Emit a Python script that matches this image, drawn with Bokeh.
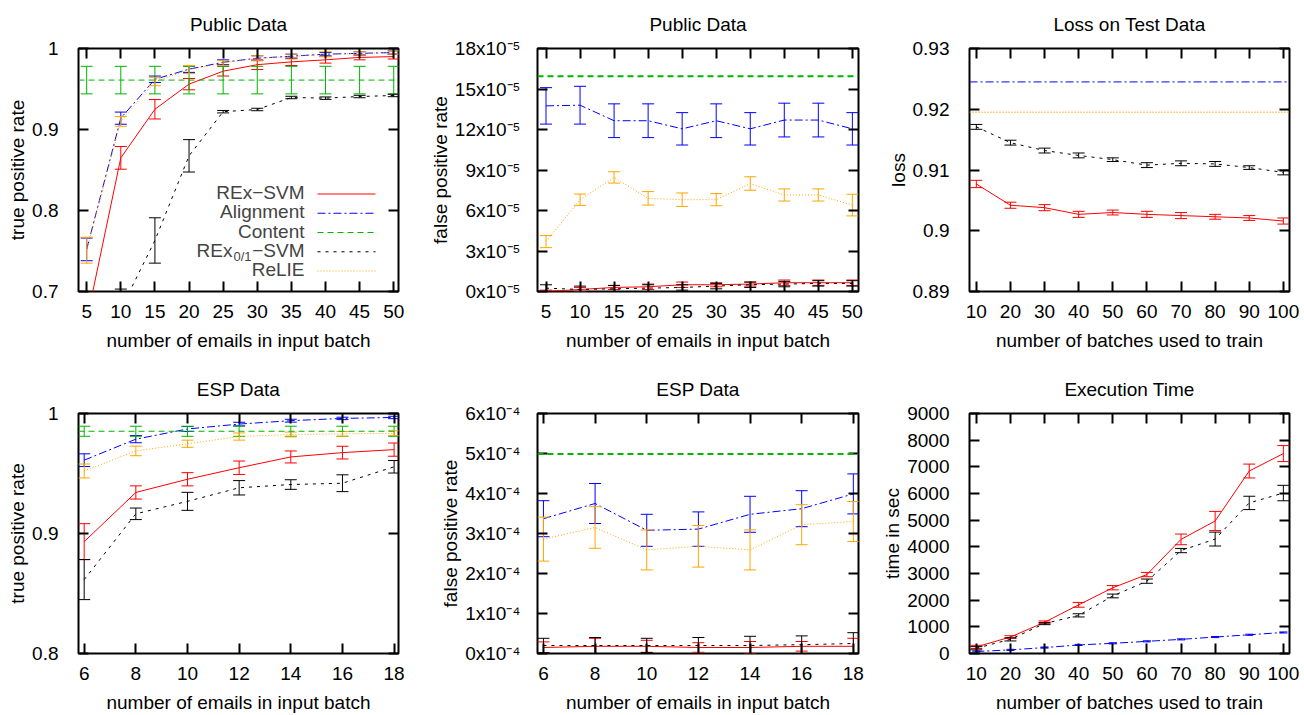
from bokeh.plotting import figure
from bokeh.layouts import column, row
from bokeh.models import (LinearAxis, FixedTicker, CustomJSTickFormatter, Range1d,
                          Label, Span)
from bokeh.embed import file_html
from bokeh.resources import INLINE

# ---------------- data ----------------
# Panel 1: Public Data, true positive rate
x_pub = [5, 10, 15, 20, 25, 30, 35, 40, 45, 50]
pub_tpr_rex = [0.664, 0.865, 0.925, 0.956, 0.972, 0.980, 0.9835, 0.986, 0.989, 0.990]
pub_tpr_rex_err = [0.015, 0.014, 0.012, 0.007, 0.006, 0.006, 0.0045, 0.004, 0.003, 0.003]
pub_tpr_align = [0.752, 0.914, 0.962, 0.9745, 0.983, 0.988, 0.9905, 0.993, 0.994, 0.995]
pub_tpr_align_err = [0.014, 0.0075, 0.004, 0.004, 0.003, 0.003, 0.0025, 0.002, 0.002, 0.002]
pub_tpr_content = 0.961
pub_tpr_content_err = 0.017
pub_tpr_rex01 = [0.58, 0.678, 0.763, 0.8675, 0.922, 0.9247, 0.9395, 0.9387, 0.9407, 0.942]
pub_tpr_rex01_err = [0.03, 0.025, 0.028, 0.02, 0.0015, 0.0015, 0.0015, 0.0015, 0.0015, 0.0015]
pub_tpr_relie = [0.751, 0.910, 0.959, 0.974, 0.982, 0.988, 0.990, 0.993, 0.994, 0.995]
pub_tpr_relie_err = [0.016, 0.006, 0.005, 0.005, 0.003, 0.003, 0.003, 0.003, 0.002, 0.002]
tpr_pub_ticks = [0.7, 0.8, 0.9, 1.0]
tpr_pub_labels = ["0.7", "0.8", "0.9", "1"]

# Panel 2: Public Data, false positive rate (units of 1e-5)
pub_fpr_rex = [0.0, 0.15, 0.3, 0.35, 0.5, 0.5, 0.55, 0.65, 0.65, 0.65]
pub_fpr_rex_err = [0.1, 0.15, 0.15, 0.2, 0.2, 0.15, 0.15, 0.2, 0.2, 0.2]
pub_fpr_align = [13.75, 13.8, 12.65, 12.65, 12.05, 12.65, 12.05, 12.7, 12.7, 12.05]
pub_fpr_align_err = [1.35, 1.4, 1.25, 1.25, 1.2, 1.25, 1.2, 1.25, 1.25, 1.2]
pub_fpr_content = 15.95
pub_fpr_rex01 = [0.25, 0.15, 0.2, 0.25, 0.3, 0.4, 0.5, 0.55, 0.6, 0.6]
pub_fpr_rex01_err = [0.25, 0.25, 0.25, 0.25, 0.2, 0.2, 0.2, 0.2, 0.2, 0.2]
pub_fpr_relie = [3.7, 6.8, 8.45, 6.9, 6.8, 6.8, 8.0, 7.15, 7.15, 6.4]
pub_fpr_relie_err = [0.45, 0.42, 0.42, 0.5, 0.5, 0.45, 0.5, 0.45, 0.45, 0.8]
fpr_pub_ticks = [0, 3, 6, 9, 12, 15, 18]
fpr_pub_labels = ["0x10\u207b\u2075", "3x10\u207b\u2075", "6x10\u207b\u2075", "9x10\u207b\u2075",
                  "12x10\u207b\u2075", "15x10\u207b\u2075", "18x10\u207b\u2075"]

# Panel 3: Loss on Test Data
x_batches = [10, 20, 30, 40, 50, 60, 70, 80, 90, 100]
loss_rex = [0.9077, 0.9042, 0.9038, 0.9027, 0.9030, 0.9027, 0.9025, 0.9023, 0.9021, 0.9016]
loss_rex_err = [0.0006, 0.0005, 0.0005, 0.0005, 0.0004, 0.0005, 0.0005, 0.0004, 0.0004, 0.0005]
loss_align = 0.9245
loss_rex01 = [0.9171, 0.9145, 0.9132, 0.9124, 0.9117, 0.9108, 0.9111, 0.9110, 0.9104, 0.9096]
loss_rex01_err = [0.0004, 0.0004, 0.0004, 0.0004, 0.0003, 0.0004, 0.0004, 0.0004, 0.0003, 0.0004]
loss_relie = 0.9195
loss_ticks = [0.89, 0.90, 0.91, 0.92, 0.93]
loss_labels = ["0.89", "0.9", "0.91", "0.92", "0.93"]

# Panel 4: ESP Data, true positive rate
x_esp = [6, 8, 10, 12, 14, 16, 18]
esp_tpr_rex = [0.8932, 0.9342, 0.9452, 0.9548, 0.9638, 0.9674, 0.9699]
esp_tpr_rex_err = [0.015, 0.0055, 0.0055, 0.0056, 0.005, 0.0053, 0.0055]
esp_tpr_align = [0.9611, 0.9786, 0.9871, 0.9912, 0.994, 0.9959, 0.9967]
esp_tpr_align_err = [0.0053, 0.003, 0.002, 0.0015, 0.0012, 0.001, 0.001]
esp_tpr_content = 0.9852
esp_tpr_content_err = 0.0042
esp_tpr_rex01 = [0.8616, 0.9164, 0.9268, 0.9381, 0.9408, 0.9419, 0.9556]
esp_tpr_rex01_err = [0.0167, 0.0048, 0.0075, 0.006, 0.004, 0.007, 0.0052]
esp_tpr_relie = [0.9521, 0.9688, 0.9748, 0.9808, 0.9825, 0.983, 0.9836]
esp_tpr_relie_err = [0.0058, 0.004, 0.003, 0.003, 0.002, 0.002, 0.002]
tpr_esp_ticks = [0.8, 0.9, 1.0]
tpr_esp_labels = ["0.8", "0.9", "1"]

# Panel 5: ESP Data, false positive rate (units of 1e-4)
esp_fpr_rex = [0.15, 0.18, 0.18, 0.15, 0.15, 0.18, 0.18]
esp_fpr_rex_err = [0.14, 0.2, 0.15, 0.12, 0.15, 0.12, 0.2]
esp_fpr_align = [3.37, 3.75, 3.08, 3.11, 3.48, 3.62, 3.99]
esp_fpr_align_err = [0.45, 0.5, 0.4, 0.43, 0.45, 0.45, 0.5]
esp_fpr_content = 4.99
esp_fpr_rex01 = [0.2, 0.2, 0.2, 0.2, 0.2, 0.22, 0.25]
esp_fpr_rex01_err = [0.18, 0.2, 0.18, 0.2, 0.23, 0.22, 0.27]
esp_fpr_relie = [2.86, 3.15, 2.59, 2.68, 2.59, 3.22, 3.30]
esp_fpr_relie_err = [0.55, 0.52, 0.5, 0.52, 0.5, 0.5, 0.5]
fpr_esp_ticks = [0, 1, 2, 3, 4, 5, 6]
fpr_esp_labels = ["0x10\u207b\u2074", "1x10\u207b\u2074", "2x10\u207b\u2074", "3x10\u207b\u2074",
                  "4x10\u207b\u2074", "5x10\u207b\u2074", "6x10\u207b\u2074"]

# Panel 6: Execution Time (sec)
time_rex = [247, 617, 1171, 1825, 2466, 2960, 4279, 4969, 6843, 7497]
time_rex_err = [60, 50, 50, 90, 80, 80, 200, 360, 260, 300]
time_rex01 = [197, 530, 1122, 1430, 2158, 2713, 3860, 4291, 5647, 6017]
time_rex01_err = [60, 60, 40, 60, 70, 80, 80, 260, 250, 290]
time_align = [74, 136, 222, 321, 382, 456, 530, 617, 703, 789]
time_align_err = [20, 20, 20, 20, 20, 20, 20, 20, 20, 20]
time_ticks = [0, 1000, 2000, 3000, 4000, 5000, 6000, 7000, 8000, 9000]
time_labels = [str(t) for t in time_ticks]

legend_names = ["REx\u2212SVM", "Alignment", "Content", "REx_0/1_\u2212SVM", "ReLIE"]

# ---------------- style ----------------
FONT = "Liberation Sans"
FS = "19px"
RED, BLUE, GREEN, BLACK, ORANGE = "#ff0000", "#0000ff", "#00b400", "#000000", "#ffa500"
D_REX, D_ALIGN, D_CONTENT, D_REX01, D_RELIE = "solid", "8 3 2 3", "6 4", "3 5", "1 2"
COLORS = [RED, BLUE, GREEN, BLACK, ORANGE]
DASHES = [D_REX, D_ALIGN, D_CONTENT, D_REX01, D_RELIE]

LOOKUP = ("const i = t.findIndex(v => Math.abs(v - tick) < 1e-9);"
          "return i >= 0 ? l[i] : '';")


def mirror_axis(ticks):
    return LinearAxis(ticker=FixedTicker(ticks=ticks),
                      formatter=CustomJSTickFormatter(code="return ''"),
                      axis_line_color=None, major_tick_in=10, major_tick_out=0,
                      major_tick_line_width=2, major_tick_line_color="black",
                      minor_tick_line_color=None, major_label_standoff=0,
                      major_label_text_font_size="1px")


def make_fig(title, xlabel, ylabel, xr, yr, xticks, yticks, ylabels,
             width, height, bl, br, bt, bb, ystand=20):
    p = figure(width=width, height=height, x_range=Range1d(*xr), y_range=Range1d(*yr),
               output_backend="svg", toolbar_location=None, title=title,
               min_border_left=bl, min_border_right=br,
               min_border_top=bt, min_border_bottom=bb,
               background_fill_color="white", border_fill_color="white")
    p.title.align = "center"
    p.title.vertical_align = "top"
    p.title.text_font = FONT
    p.title.text_font_size = FS
    p.title.text_font_style = "normal"
    p.title.text_color = "black"
    p.title.standoff = 23
    p.grid.visible = False
    p.outline_line_color = "black"
    p.outline_line_width = 2
    p.outline_line_alpha = 1
    p.xaxis.ticker = FixedTicker(ticks=xticks)
    p.yaxis.ticker = FixedTicker(ticks=yticks)
    p.yaxis.formatter = CustomJSTickFormatter(args=dict(t=yticks, l=ylabels), code=LOOKUP)
    p.xaxis.axis_label = xlabel
    p.yaxis.axis_label = ylabel
    for ax in (p.xaxis[0], p.yaxis[0]):
        ax.axis_line_color = None
        ax.major_tick_in = 10
        ax.major_tick_out = 0
        ax.major_tick_line_width = 2
        ax.major_tick_line_color = "black"
        ax.minor_tick_line_color = None
        ax.major_label_text_font = FONT
        ax.major_label_text_font_size = FS
        ax.major_label_text_color = "black"
        ax.axis_label_text_font = FONT
        ax.axis_label_text_font_size = FS
        ax.axis_label_text_font_style = "normal"
        ax.axis_label_text_color = "black"
    p.xaxis.major_label_standoff = 13
    p.xaxis.axis_label_standoff = 9
    p.yaxis.major_label_standoff = ystand
    p.yaxis.axis_label_standoff = 1
    p.add_layout(mirror_axis(xticks), "above")
    p.add_layout(mirror_axis(yticks), "right")
    return p


def errorbars(p, x, y, err, color, cap=12):
    lo = [a - e for a, e in zip(y, err)]
    hi = [a + e for a, e in zip(y, err)]
    p.segment(x0=x, y0=lo, x1=x, y1=hi, line_color=color, line_width=1)
    p.scatter(x, lo, marker="dash", size=cap, line_color=color, line_width=1)
    p.scatter(x, hi, marker="dash", size=cap, line_color=color, line_width=1)


def series(p, x, y, err, color, dash, cap=12):
    p.line(x, y, line_color=color, line_width=1, line_dash=dash)
    if err is not None:
        errorbars(p, x, y, err, color, cap)


def constant(p, x, v, err, color, dash, width=1):
    p.add_layout(Span(location=v, dimension="width", line_color=color,
                      line_dash=dash, line_width=width))
    if err is not None:
        errorbars(p, x, [v] * len(x), [err] * len(x), color)


# ---------------- layout geometry ----------------
H1, H2 = 365, 350
T1, B1 = 48, 74
T2, B2 = 48, 59
W1, L1, R1 = 418, 78, 20
W2, L2, R2 = 460, 119, 20
W3, L3, R3 = 421, 91, 10

XLAB_EMAIL = "number of emails in input batch"
XLAB_BATCH = "number of batches used to train"

# Panel 1
xr1, yr1 = (3.8, 50.7), (0.7, 1.0)
p1 = make_fig("Public Data", XLAB_EMAIL, "true positive rate", xr1, yr1,
              x_pub, tpr_pub_ticks, tpr_pub_labels, W1, H1, L1, R1, T1, B1)
series(p1, x_pub, pub_tpr_rex, pub_tpr_rex_err, RED, D_REX)
series(p1, x_pub, pub_tpr_align, pub_tpr_align_err, BLUE, D_ALIGN)
constant(p1, x_pub, pub_tpr_content, pub_tpr_content_err, GREEN, D_CONTENT)
series(p1, x_pub, pub_tpr_rex01, pub_tpr_rex01_err, BLACK, D_REX01)
series(p1, x_pub, pub_tpr_relie, pub_tpr_relie_err, ORANGE, D_RELIE)

# manual legend (labels right-aligned, samples on the right)
frame_h1 = H1 - T1 - B1
leg_text_x = xr1[0] + (304 - 78) / 320 * (xr1[1] - xr1[0])
leg_line_x = xr1[0] + (346 - 78) / 320 * (xr1[1] - xr1[0])
for i, (name, col, dash) in enumerate(zip(legend_names, COLORS, DASHES)):
    y_px = 144 + 19.25 * i
    yv = yr1[1] - y_px / frame_h1 * (yr1[1] - yr1[0])
    if "_" in name:
        base, sub, rest = name.split("_")
        p1.add_layout(Label(x=leg_text_x, y=yv, text=rest, text_align="right",
                            text_baseline="middle", text_font=FONT, text_font_size=FS))
        p1.add_layout(Label(x=leg_text_x, y=yv, x_offset=-53, y_offset=-6, text=sub,
                            text_align="right", text_baseline="middle", text_font=FONT,
                            text_font_size="13px"))
        p1.add_layout(Label(x=leg_text_x, y=yv, x_offset=-72, text=base, text_align="right",
                            text_baseline="middle", text_font=FONT, text_font_size=FS))
    else:
        p1.add_layout(Label(x=leg_text_x, y=yv, text=name, text_align="right",
                            text_baseline="middle", text_font=FONT, text_font_size=FS))
    yl = yv - 1.5 / frame_h1 * (yr1[1] - yr1[0])
    p1.scatter([leg_line_x], [yl], marker="dash", size=58, line_color=col,
               line_dash=dash, line_width=1)

# Panel 2
p2 = make_fig("Public Data", XLAB_EMAIL, "false positive rate", (3.75, 50.9), (0, 18),
              x_pub, fpr_pub_ticks, fpr_pub_labels, W2, H1, L2, R2, T1, B1, ystand=17)
series(p2, x_pub, pub_fpr_rex, pub_fpr_rex_err, RED, D_REX)
series(p2, x_pub, pub_fpr_align, pub_fpr_align_err, BLUE, D_ALIGN)
constant(p2, x_pub, pub_fpr_content, None, GREEN, D_CONTENT, width=2)
series(p2, x_pub, pub_fpr_rex01, pub_fpr_rex01_err, BLACK, D_REX01)
series(p2, x_pub, pub_fpr_relie, pub_fpr_relie_err, ORANGE, D_RELIE)

# Panel 3
p3 = make_fig("Loss on Test Data", XLAB_BATCH, "loss", (8.0, 101.8), (0.89, 0.93),
              x_batches, loss_ticks, loss_labels, W3, H1, L3, R3, T1, B1)
series(p3, x_batches, loss_rex, loss_rex_err, RED, D_REX)
constant(p3, x_batches, loss_align, None, BLUE, D_ALIGN)
series(p3, x_batches, loss_rex01, loss_rex01_err, BLACK, D_REX01)
constant(p3, x_batches, loss_relie, None, ORANGE, D_RELIE, width=1.5)

# Panel 4
p4 = make_fig("ESP Data", XLAB_EMAIL, "true positive rate", (5.78, 18.17), (0.8, 1.0),
              x_esp, tpr_esp_ticks, tpr_esp_labels, W1, H2, L1, R1, T2, B2)
series(p4, x_esp, esp_tpr_rex, esp_tpr_rex_err, RED, D_REX)
series(p4, x_esp, esp_tpr_align, esp_tpr_align_err, BLUE, D_ALIGN)
constant(p4, x_esp, esp_tpr_content, esp_tpr_content_err, GREEN, D_CONTENT)
series(p4, x_esp, esp_tpr_rex01, esp_tpr_rex01_err, BLACK, D_REX01)
series(p4, x_esp, esp_tpr_relie, esp_tpr_relie_err, ORANGE, D_RELIE)

# Panel 5
p5 = make_fig("ESP Data", XLAB_EMAIL, "false positive rate", (5.77, 18.2), (0, 6),
              x_esp, fpr_esp_ticks, fpr_esp_labels, W2, H2, L2, R2, T2, B2, ystand=17)
series(p5, x_esp, esp_fpr_rex, esp_fpr_rex_err, RED, D_REX)
series(p5, x_esp, esp_fpr_align, esp_fpr_align_err, BLUE, D_ALIGN)
constant(p5, x_esp, esp_fpr_content, None, GREEN, D_CONTENT, width=2)
series(p5, x_esp, esp_fpr_rex01, esp_fpr_rex01_err, BLACK, D_REX01)
series(p5, x_esp, esp_fpr_relie, esp_fpr_relie_err, ORANGE, D_RELIE)

# Panel 6
p6 = make_fig("Execution Time", XLAB_BATCH, "time in sec", (8.0, 101.8), (0, 9000),
              x_batches, time_ticks, time_labels, W3, H2, L3, R3, T2, B2)
series(p6, x_batches, time_rex, time_rex_err, RED, D_REX)
series(p6, x_batches, time_align, time_align_err, BLUE, D_ALIGN, cap=8)
series(p6, x_batches, time_rex01, time_rex01_err, BLACK, D_REX01)

layout = column(row(p1, p2, p3), row(p4, p5, p6))
open("out.html", "w").write(file_html(layout, INLINE))
